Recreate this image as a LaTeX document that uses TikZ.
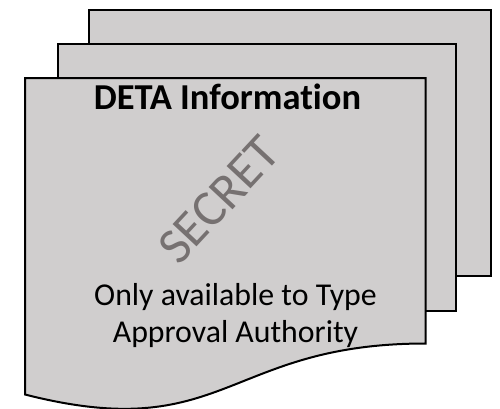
\documentclass[tikz,border=0pt]{standalone}
\usepackage{fontspec}
\setmainfont{Carlito}[Ligatures=NoCommon]
\definecolor{sheetgray}{HTML}{D0CECE}
\definecolor{stampgray}{HTML}{767171}
\begin{document}
\begin{tikzpicture}[x=1pt,y=-1pt,line width=2pt,line join=miter,
	sheet/.style={draw=black,fill=sheetgray},
	bodytext/.style={anchor=base,inner sep=0pt,font=\fontsize{31.8}{38}\selectfont}]
	\useasboundingbox (0,0) rectangle (500,408);
	% back sheets
	\draw[sheet] (89,10) rectangle (490.5,276);
	\draw[sheet] (58,43.5) rectangle (455.5,311);
	% front sheet with wavy bottom
	\draw[sheet] (25,78)--(425.5,78)--(425.5,343.5)
		.. controls (225.6,343.5) and (225.6,445.6) .. (25,394.5)--cycle;
	\node[anchor=base,inner sep=0pt,font=\bfseries\fontsize{36.5}{44}\selectfont] (title) at (227.5,109) {DETA Information};
	\node[text=stampgray,rotate=47,inner sep=0pt,font=\fontsize{51}{56}\selectfont] (stamp) at (219,200) {SECRET};
	\node[bodytext] (line1) at (235.5,305) {Only available to Type};
	\node[bodytext] (line2) at (235.5,342) {Approval Authority};
\end{tikzpicture}
\end{document}
